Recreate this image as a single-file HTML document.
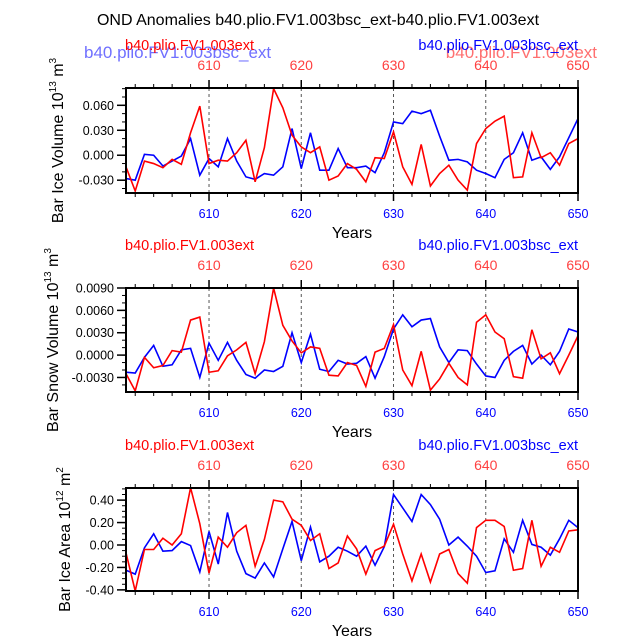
<!DOCTYPE html>
<html><head><meta charset="utf-8"><style>
html,body{margin:0;padding:0;background:#fff;}
svg{display:block;font-family:"Liberation Sans",sans-serif;}
</style></head><body>
<svg id="chart" width="638" height="639" viewBox="0 0 638 639">
<text x="318" y="25" font-size="16" text-anchor="middle">OND Anomalies b40.plio.FV1.003bsc_ext-b40.plio.FV1.003ext</text>
<text x="84" y="58" font-size="17" fill="#7070ff">b40.plio.FV1.003bsc_ext</text>
<text x="597" y="58" font-size="17" fill="#ff7070" text-anchor="end">b40.plio.FV1.003ext</text>
<g id="panels"></g>
</svg>
<script>
const years = [];
for (let y = 601; y <= 650; y++) years.push(y);
const iceVolRed = [-0.014,-0.043,-0.007,-0.01,-0.015,-0.005,-0.011,0.027,0.059,-0.01,-0.006,-0.007,0.003,0.018,-0.032,0.009,0.080,0.057,0.024,0.010,0.003,0.010,-0.030,-0.025,-0.010,-0.017,-0.032,-0.003,-0.004,0.028,-0.014,-0.035,0.013,-0.037,-0.022,-0.012,-0.030,-0.042,0.014,0.032,0.041,0.047,-0.027,-0.026,0.027,-0.003,0.003,-0.012,0.014,0.020];
const iceVolBlue = [-0.028,-0.030,0.001,0.000,-0.013,-0.007,-0.001,0.020,-0.024,-0.004,-0.014,0.020,-0.007,-0.026,-0.029,-0.022,-0.024,-0.014,0.032,-0.016,0.027,-0.018,-0.018,0.008,-0.015,-0.015,-0.013,-0.021,0.003,0.040,0.038,0.053,0.050,0.054,0.023,-0.006,-0.005,-0.008,-0.018,-0.022,-0.027,-0.005,0.003,0.027,-0.006,-0.002,-0.017,-0.002,0.021,0.044];
const snowRed = [-0.0025,-0.0048,-0.0003,-0.0017,-0.0014,0.0006,0.0004,0.0047,0.0051,-0.0023,-0.0021,-0.0001,0.0007,0.0017,-0.0025,0.0018,0.0090,0.0040,0.0019,0.0003,0.0011,0.0009,-0.0027,-0.0028,-0.0010,-0.0014,-0.0042,0.0004,0.0009,0.0041,-0.0020,-0.0041,0.0005,-0.0047,-0.0032,-0.0011,-0.0030,-0.0040,0.0044,0.0054,0.0031,0.0022,-0.0029,-0.0031,0.0034,-0.0005,0.0003,-0.0025,0.0000,0.0026];
const snowBlue = [-0.0023,-0.0024,-0.0003,0.0013,-0.0015,-0.0013,0.0007,0.0009,-0.0030,0.0016,-0.0007,0.0017,-0.0007,-0.0026,-0.0031,-0.0020,-0.0022,-0.0015,0.0030,-0.0010,0.0028,-0.0019,-0.0022,-0.0007,-0.0012,-0.0011,-0.0002,-0.0031,-0.0002,0.0035,0.0054,0.0038,0.0047,0.0049,0.0011,-0.0010,0.0007,0.0006,-0.0012,-0.0028,-0.0030,-0.0007,0.0005,0.0013,-0.0012,0.0000,-0.0013,0.0005,0.0035,0.0031];
const areaRed = [-0.07,-0.41,-0.04,-0.04,0.06,0.00,0.10,0.51,0.19,-0.25,0.07,-0.02,0.11,0.175,-0.19,0.05,0.40,0.385,0.23,0.175,0.04,0.10,-0.21,-0.16,0.08,-0.035,-0.26,-0.05,-0.01,0.185,-0.08,-0.32,-0.08,-0.33,-0.08,-0.04,-0.255,-0.34,0.155,0.22,0.22,0.165,-0.225,-0.21,0.22,-0.19,-0.02,-0.065,0.125,0.135];
const areaBlue = [-0.225,-0.26,-0.025,0.10,-0.055,-0.05,0.03,-0.005,-0.24,0.12,-0.17,0.29,-0.055,-0.255,-0.295,-0.16,-0.285,-0.035,0.21,-0.14,0.16,-0.15,-0.10,-0.02,-0.055,-0.10,-0.01,-0.18,-0.015,0.45,0.33,0.21,0.45,0.36,0.23,0.00,0.07,-0.01,-0.10,-0.245,-0.23,0.055,-0.065,0.22,0.005,-0.02,-0.09,0.055,0.22,0.155];
const xTicks = [610,620,630,640,650];
const volTicks = [0.06,0.03,0,-0.03];
const volTickLabels = ["0.060","0.030","0.000","-0.030"];
const snowTicks = [0.009,0.006,0.003,0,-0.003];
const snowTickLabels = ["0.0090","0.0060","0.0030","0.0000","-0.0030"];
const areaTicks = [0.4,0.2,0,-0.2,-0.4];
const areaTickLabels = ["0.40","0.20","0.00","-0.20","-0.40"];

const NS = "http://www.w3.org/2000/svg";
const root = document.getElementById("panels");
function mk(tag, attrs, parent, text) {
  const e = document.createElementNS(NS, tag);
  for (const k in attrs) e.setAttribute(k, attrs[k]);
  if (text !== undefined) e.textContent = text;
  parent.appendChild(e);
  return e;
}
const X0 = 126, X1 = 578;
const panels = [
  {key:"ice-volume", top:88, bot:193, ymin:-0.0454, ymax:0.0808, red:iceVolRed, blue:iceVolBlue, ticks:volTicks, labels:volTickLabels, minor:0.01, title:"Bar Ice Volume 10", sup:"13", unit:" m", usup:"3"},
  {key:"snow-volume", top:288, bot:392, ymin:-0.00495, ymax:0.009, red:snowRed, blue:snowBlue, ticks:snowTicks, labels:snowTickLabels, minor:0.001, title:"Bar Snow Volume 10", sup:"13", unit:" m", usup:"3"},
  {key:"ice-area", top:488, bot:591, ymin:-0.41, ymax:0.508, red:areaRed, blue:areaBlue, ticks:areaTicks, labels:areaTickLabels, minor:0.05, title:"Bar Ice Area 10", sup:"12", unit:" m", usup:"2"}
];
panels.forEach((p, pi) => {
  const g = mk("g", {}, root);
  
  
  const xs = yr => X0 + (yr - 601) / 49 * (X1 - X0);
  const ys = v => p.bot - (v - p.ymin) / (p.ymax - p.ymin) * (p.bot - p.top);
  const cy = (p.top + p.bot) / 2;
  const rl = mk("text", {x:125, y:p.top - 38, "font-size":14.5, fill:"#ff0000"}, g, "b40.plio.FV1.003ext");
  
  
  const bl = mk("text", {x:X1, y:p.top - 38, "font-size":14.5, fill:"#0000ff", "text-anchor":"end"}, g, "b40.plio.FV1.003bsc_ext");
  
  
  [610,620,630,640].forEach(t => {
    const l = mk("line", {x1:xs(t), x2:xs(t), y1:p.top, y2:p.bot, stroke:"#555", "stroke-width":1, "stroke-dasharray":"3,3"}, g);
    
    
  });
  for (let yr = 602; yr <= 650; yr += 2) {
    const major = yr % 10 === 0;
    const len = major ? 8 : 4;
    mk("line", {x1:xs(yr), x2:xs(yr), y1:p.top, y2:p.top - len, stroke:"#000", "stroke-width":major?1.5:1}, g);
    mk("line", {x1:xs(yr), x2:xs(yr), y1:p.bot, y2:p.bot + len, stroke:"#000", "stroke-width":major?1.5:1}, g);
  }
  xTicks.forEach(t => {
    const a = mk("text", {x:xs(t), y:p.top - 18, "font-size":14, fill:"#ff4040", "text-anchor":"middle"}, g, t);
    
    
    const b = mk("text", {x:xs(t), y:p.bot + 25, "font-size":12.5, fill:"#0000ff", "text-anchor":"middle"}, g, t);
    
    
  });
  const xt = mk("text", {x:352, y:p.bot + 45, "font-size":16, "text-anchor":"middle"}, g, "Years");
  
  
  for (let v = Math.ceil(p.ymin / p.minor) * p.minor; v <= p.ymax; v += p.minor) {
    mk("line", {x1:X0, x2:X0 - 4, y1:ys(v), y2:ys(v), stroke:"#000", "stroke-width":1}, g);
  }
  p.ticks.forEach((t, i) => {
    mk("line", {x1:X0, x2:X0 - 9, y1:ys(t), y2:ys(t), stroke:"#000", "stroke-width":1.5}, g);
    const lb = mk("text", {x:X0 - 12, y:ys(t) + 4.5, "font-size":12.5, "text-anchor":"end"}, g, p.labels[i]);
    
    
  });
  const yt = mk("text", {x:0, y:0, "font-size":16, "text-anchor":"middle", transform:`translate(${pi===0?63:(pi===1?58:70)},${cy}) rotate(-90)`}, g);
  
  
  mk("tspan", {}, yt, p.title);
  mk("tspan", {"font-size":10, dy:-7}, yt, p.sup);
  mk("tspan", {dy:7}, yt, p.unit);
  mk("tspan", {"font-size":10, dy:-7}, yt, p.usup);
  const cp = mk("clipPath", {id:"clip" + pi}, g);
  mk("rect", {x:X0, y:p.top, width:X1 - X0, height:p.bot - p.top}, cp);
  const path = arr => arr.map((v, i) => (i ? "L" : "M") + xs(years[i]).toFixed(2) + " " + ys(v).toFixed(2)).join(" ");
  const bp = mk("path", {d:path(p.blue), fill:"none", stroke:"#0000ff", "stroke-width":1.6, "clip-path":`url(#clip${pi})`}, g);
  
  
  const rp = mk("path", {d:path(p.red), fill:"none", stroke:"#ff0000", "stroke-width":1.6, "clip-path":`url(#clip${pi})`}, g);
  
  
  const box = mk("rect", {x:X0, y:p.top, width:X1 - X0, height:p.bot - p.top, fill:"none", stroke:"#000", "stroke-width":2}, g);
  
  
});
</script>
</body></html>
